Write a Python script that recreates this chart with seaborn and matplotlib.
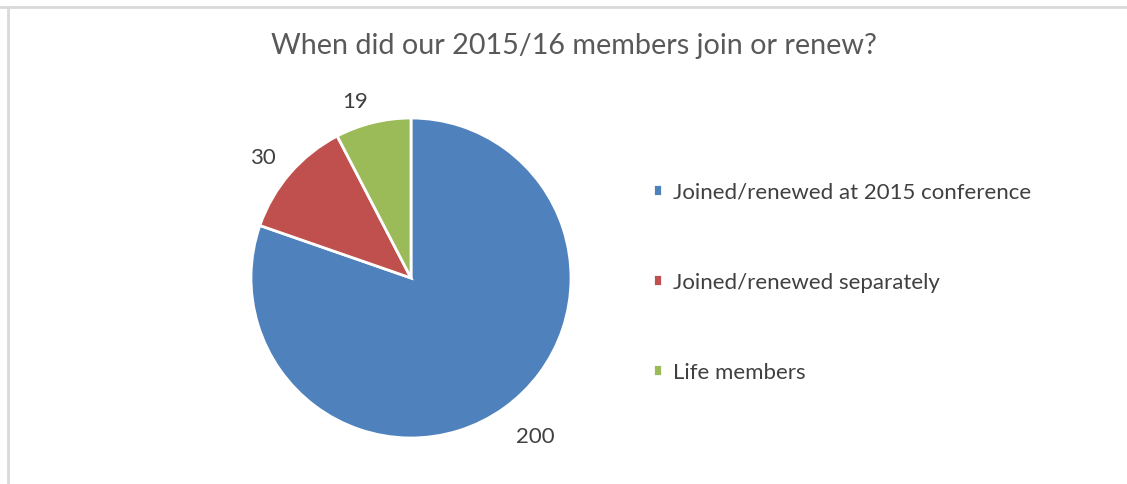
import matplotlib
matplotlib.use("Agg")
import matplotlib.pyplot as plt
import matplotlib.transforms as mtransforms
from matplotlib.lines import Line2D
import seaborn as sns

# data
categories = ["Joined/renewed at 2015 conference", "Joined/renewed separately", "Life members"]
members = [200, 30, 19]
colours = ["#4F81BD", "#C0504D", "#9BBB59"]
title = "When did our 2015/16 members join or renew?"

sns.set_theme(style="white")
plt.rcParams["font.family"] = ["Lato", "DejaVu Sans"]

W, H = 1127, 485
fig = plt.figure(figsize=(W / 100, H / 100), dpi=100)

# pie centred at (411, 279) px, radius 160 px
cx, cy, half = 411, 279, 200
ax = fig.add_axes([(cx - half) / W, (H - cy - half) / H, 2 * half / W, 2 * half / H])
total = sum(members)
wedges, texts, autotexts = ax.pie(
    members,
    colors=colours,
    startangle=90,
    counterclock=False,
    radius=1,
    autopct=lambda p: f"{round(p * total / 100)}",
    pctdistance=1.22,
    wedgeprops=dict(edgecolor="white", linewidth=2),
    textprops=dict(color="#404040", fontsize=16),
)
ax.set_xlim(-1.25, 1.25)
ax.set_ylim(-1.25, 1.25)
ax.set_aspect("equal")
ax.axis("off")

# nudge the value labels a little, like Excel's outside-end placement (points)
nudges = [(8, 1), (0, -5), (-7, -9)]
for t, (dx, dy) in zip(autotexts, nudges):
    t.set_transform(mtransforms.offset_copy(ax.transData, fig=fig, x=dx, y=dy, units="points"))

fig.text(574 / W, 1 - 46 / H, title, ha="center", va="center",
         fontsize=20.7, color="#595959")

fig.legend(wedges, categories, loc="center left",
           bbox_to_anchor=(633 / W, 1 - 283 / H),
           frameon=False, fontsize=16, labelcolor="#404040",
           handlelength=0.42, handleheight=0.42, handletextpad=0.5,
           labelspacing=3.15)

# thin grey border at top and left
fig.add_artist(Line2D([0, 1], [1 - 8 / H, 1 - 8 / H], color="#d9d9d9", linewidth=2,
                      transform=fig.transFigure))
fig.add_artist(Line2D([8 / W, 8 / W], [0, 1 - 8 / H], color="#d9d9d9", linewidth=2,
                      transform=fig.transFigure))

fig.savefig("out.png", dpi=100, facecolor="white")
